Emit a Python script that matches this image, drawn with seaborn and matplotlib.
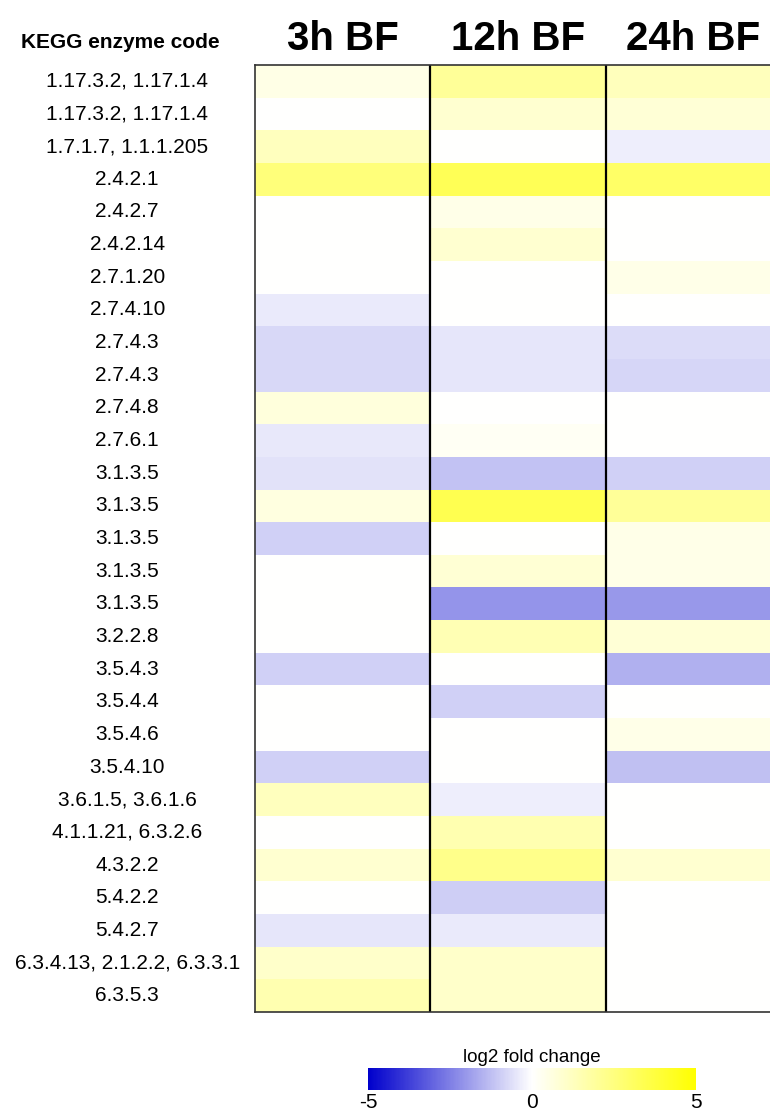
import numpy as np
import pandas as pd
import matplotlib
matplotlib.use("Agg")
import matplotlib.pyplot as plt
import seaborn as sns
from matplotlib.colors import LinearSegmentedColormap

# enzyme codes (rows) and time points (columns)
enzymes = [
    "1.17.3.2, 1.17.1.4", "1.17.3.2, 1.17.1.4", "1.7.1.7, 1.1.1.205", "2.4.2.1",
    "2.4.2.7", "2.4.2.14", "2.7.1.20", "2.7.4.10", "2.7.4.3", "2.7.4.3",
    "2.7.4.8", "2.7.6.1", "3.1.3.5", "3.1.3.5", "3.1.3.5", "3.1.3.5", "3.1.3.5",
    "3.2.2.8", "3.5.4.3", "3.5.4.4", "3.5.4.6", "3.5.4.10", "3.6.1.5, 3.6.1.6",
    "4.1.1.21, 6.3.2.6", "4.3.2.2", "5.4.2.2", "5.4.2.7",
    "6.3.4.13, 2.1.2.2, 6.3.3.1", "6.3.5.3",
]
timepoints = ["3h BF", "12h BF", "24h BF"]

# log2 fold change
fc_3h = [0.5, 0.0, 1.25, 2.6, 0.0, 0.0, 0.0, -0.4, -0.75, -0.75,
         0.7, -0.45, -0.55, 0.6, -0.9, 0.0, 0.0, 0.0, -0.9, 0.0,
         0.0, -0.9, 1.25, 0.0, 0.9, 0.0, -0.5, 1.05, 1.55]
fc_12h = [2.0, 0.9, 0.0, 3.3, 0.45, 0.9, 0.0, 0.0, -0.5, -0.5,
          0.0, 0.2, -1.2, 3.4, 0.0, 0.85, -2.1, 1.45, 0.0, -0.9,
          0.0, 0.0, -0.35, 1.55, 2.3, -0.95, -0.4, 1.05, 1.05]
fc_24h = [1.3, 0.8, -0.35, 3.0, 0.0, 0.0, 0.45, 0.0, -0.7, -0.8,
          0.0, 0.0, -0.9, 2.0, 0.45, 0.45, -2.0, 0.8, -1.55, 0.0,
          0.45, -1.25, 0.0, 0.0, 0.9, 0.0, 0.0, 0.0, 0.0]

df = pd.DataFrame({"3h BF": fc_3h, "12h BF": fc_12h, "24h BF": fc_24h})

plt.rcParams["font.family"] = ["Liberation Sans Narrow", "Liberation Sans", "DejaVu Sans"]
plt.rcParams["axes.unicode_minus"] = False

cmap = LinearSegmentedColormap.from_list("byw", ["#0000cc", "#ffffff", "#ffff00"])

fig = plt.figure(figsize=(7.7, 11.13), dpi=100)
ax = fig.add_axes([255 / 770, 1 - 1012 / 1113, 526 / 770, 947 / 1113])
cax = fig.add_axes([368 / 770, 1 - 1090 / 1113, 328 / 770, 22 / 1113])

sns.heatmap(df, ax=ax, cmap=cmap, vmin=-5, vmax=5, cbar=True, cbar_ax=cax,
            cbar_kws={"orientation": "horizontal", "ticks": [-5, 0, 5]},
            xticklabels=timepoints, yticklabels=enzymes)

# column labels on top
ax.xaxis.tick_top()
ax.tick_params(axis="x", length=0, pad=5)
for t in ax.get_xticklabels():
    t.set_fontsize(29)
    t.set_fontweight("bold")
    t.set_rotation(0)

# row labels centred left of the heatmap
ax.tick_params(axis="y", length=0, pad=92)
for t in ax.get_yticklabels():
    t.set_fontsize(15)
    t.set_rotation(0)
    t.set_horizontalalignment("center")

# borders
for s in ax.spines.values():
    s.set_visible(True)
    s.set_color("#333333")
    s.set_linewidth(1.2)
for x in [1, 2]:
    ax.axvline(x, color="black", lw=1.6)

fig.text(120 / 770, 1 - 43 / 1113, "KEGG enzyme code", ha="center", va="center",
         fontsize=15, fontweight="bold")

# colour bar
cbar = ax.collections[0].colorbar
cbar.outline.set_visible(False)
cax.tick_params(length=0, labelsize=15, pad=2)
cax.set_title("log2 fold change", fontsize=13.5, pad=4)

fig.savefig("out.png", dpi=100)
